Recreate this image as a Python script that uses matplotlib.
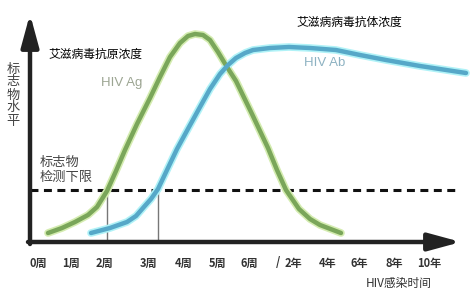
import matplotlib
matplotlib.use("Agg")
import matplotlib.pyplot as plt

plt.rcParams['font.family'] = ['Noto Sans CJK SC', 'DejaVu Sans']

# ---- data (x = time position, y = screen-level position) ----
tick_labels = ["0周", "1周", "2周", "3周", "4周", "5周", "6周", "/", "2年", "4年", "6年", "8年", "10年"]
tick_pos = [38, 71, 104, 149, 184, 218, 249, 278, 293, 328, 359, 394, 429]

ag_x = [48, 62, 75, 88, 97, 107, 116, 125, 137, 150, 160, 170, 180, 188, 195, 203, 210, 218,
        227, 236, 252, 268, 277, 286, 299, 310, 320, 341]
ag_y = [233, 228, 222, 215, 207, 191, 171, 150, 124, 98, 77, 57, 43, 36, 34, 35, 40, 52,
        67, 81, 114, 148, 170, 190, 209, 219, 225, 233]

ab_x = [91, 110, 127, 136, 143, 151, 158, 167, 177, 189, 200, 210, 220, 228, 236, 245, 253,
        270, 289, 310, 336, 360, 386, 420, 466]
ab_y = [233, 228, 222, 216, 208, 199, 189, 170, 149, 127, 107, 89, 74, 65, 58, 53, 50,
        48, 47, 48, 50, 55, 60, 66, 73]

detect_level = 190
detect_x = [107, 158]

fig = plt.figure(figsize=(4.72, 2.98), dpi=100)
ax = fig.add_axes([0, 0, 1, 1])
ax.set_xlim(0, 472)
ax.set_ylim(298, 0)
ax.axis('off')

# detection threshold dashed line
ax.plot([30, 458], [detect_level, detect_level], color='#111111', lw=2.2,
        linestyle=(0, (2.6, 1.8)), zorder=2)
# vertical markers
for xv in detect_x:
    ax.plot([xv, xv], [detect_level, 242], color='#777777', lw=1.0, zorder=2)

# curves with glow
kw = dict(solid_capstyle='round', solid_joinstyle='round')
ax.plot(ag_x, ag_y, color='#d4ecb0', lw=5.5, zorder=3, **kw)
ax.plot(ag_x, ag_y, color='#7aa65a', lw=3.2, zorder=4, **kw)
ax.plot(ab_x, ab_y, color='#b0f2f7', lw=5.5, zorder=3, **kw)
ax.plot(ab_x, ab_y, color='#56a8c8', lw=3.2, zorder=4, **kw)

# axes arrows
ap = dict(arrowstyle='-|>,head_length=1.4,head_width=0.38', lw=3.2, color='#222222',
          shrinkA=0, shrinkB=0, mutation_scale=14)
ax.annotate('', xy=(461, 242), xytext=(28, 242), arrowprops=ap, zorder=5)
ax.annotate('', xy=(30, 14), xytext=(30, 244), arrowprops=ap, zorder=5)

# tick labels
for p, t in zip(tick_pos, tick_labels):
    ax.text(p, 263, t, ha='center', va='center', fontsize=8, fontweight='bold', color='#333333')
ax.text(399, 283, "HIV感染时间", ha='center', va='center', fontsize=8.5, color='#333333')

# annotations
ax.text(48, 54, "艾滋病毒抗原浓度", ha='left', va='center', fontsize=8.5, color='#000000')
ax.text(101, 83, "HIV Ag", ha='left', va='center', fontsize=9.5, color='#9ca592',
        family=['Liberation Sans', 'DejaVu Sans'])
ax.text(296, 22, "艾滋病病毒抗体浓度", ha='left', va='center', fontsize=8.5, color='#000000')
ax.text(304, 63, "HIV Ab", ha='left', va='center', fontsize=9.5, color='#8db2c2',
        family=['Liberation Sans', 'DejaVu Sans'])
ax.text(13, 95, "标\n志\n物\n水\n平", ha='center', va='center', fontsize=9.5, color='#444444',
        linespacing=1.0)
ax.text(40, 170, "标志物\n检测下限", ha='left', va='center', fontsize=9.5, color='#444444',
        linespacing=1.15)

fig.savefig("out.png", dpi=100)
